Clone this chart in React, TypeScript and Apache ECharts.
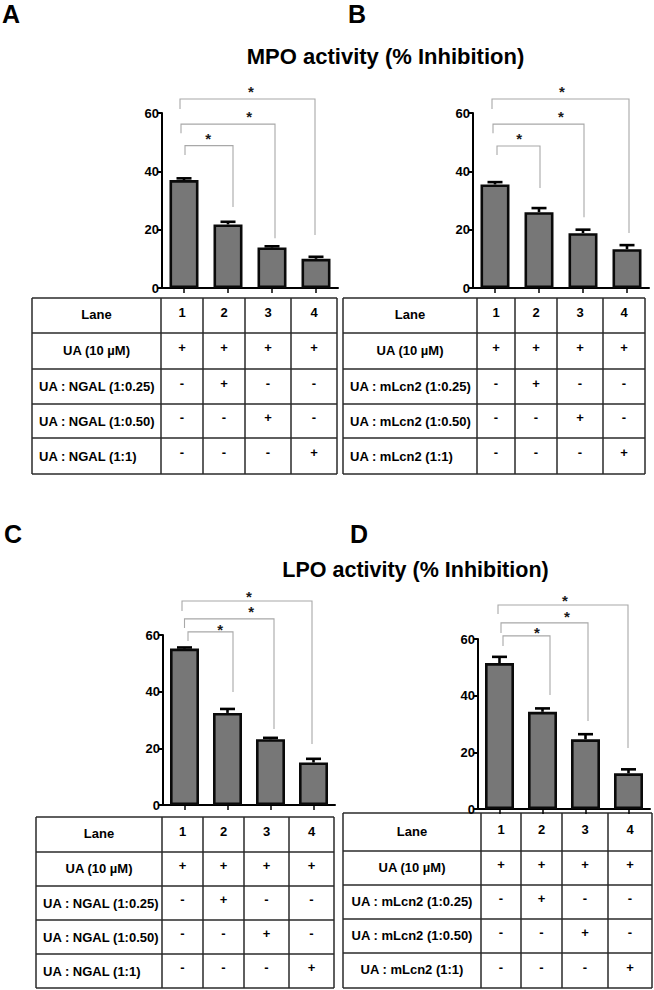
import React, { useEffect, useRef } from 'react';
import * as echarts from 'echarts';

// ---------- data ----------
const lanes = ['1', '2', '3', '4'];
const yTicks = [0, 20, 40, 60];

const mpoNgal = [37.0, 21.8, 13.9, 10.0];
const mpoNgalErr = [0.6, 0.9, 0.4, 0.7];
const mpoLcn2 = [35.5, 26.0, 18.8, 13.3];
const mpoLcn2Err = [0.8, 1.4, 1.2, 1.4];
const lpoNgal = [55.2, 32.5, 23.2, 15.0];
const lpoNgalErr = [0.4, 1.4, 0.5, 1.3];
const lpoLcn2 = [51.5, 34.3, 24.6, 12.6];
const lpoLcn2Err = [2.2, 1.2, 1.8, 1.4];

// brackets: [fromLane, toLane, top, leftLegEnd, rightLegEnd, starPosition]
const mpoNgalBrackets = [
  [0, 1, 48.8, 45.6, 27.8, 0.55],
  [0, 2, 56.2, 53.1, 17.1, 1.48],
  [0, 3, 64.8, 61.4, 18.2, 1.52],
];
const mpoLcn2Brackets = [
  [0, 1, 48.7, 45.6, 34.3, 0.55],
  [0, 2, 56.2, 53.1, 24.3, 1.5],
  [0, 3, 64.8, 61.4, 18.9, 1.52],
];
const lpoNgalBrackets = [
  [0, 1, 61.1, 57.9, 39.9, 0.83],
  [0, 2, 65.7, 62.5, 26.8, 1.55],
  [0, 3, 72.0, 68.5, 21.5, 1.5],
];
const lpoLcn2Brackets = [
  [0, 1, 61.1, 57.5, 40.2, 0.87],
  [0, 2, 65.7, 62.1, 31.1, 1.57],
  [0, 3, 72.0, 68.8, 21.5, 1.52],
];
const sigMark = '*';

const titles = ['MPO activity (% Inhibition)', 'LPO activity (% Inhibition)'];
const panelLetters = ['A', 'B', 'C', 'D'];

const ngalRowLabels = ['Lane', 'UA (10 µM)', 'UA : NGAL (1:0.25)', 'UA : NGAL (1:0.50)', 'UA : NGAL (1:1)'];
const lcn2RowLabels = ['Lane', 'UA (10 µM)', 'UA : mLcn2 (1:0.25)', 'UA : mLcn2 (1:0.50)', 'UA : mLcn2 (1:1)'];
const treatmentMarks = [
  ['+', '+', '+', '+'],
  ['-', '+', '-', '-'],
  ['-', '-', '+', '-'],
  ['-', '-', '-', '+'],
];

// ---------- layout / style ----------
const FONT = '"Liberation Sans", Arial, Helvetica, sans-serif';

const panels = [
  {
    values: mpoNgal, errs: mpoNgalErr, brackets: mpoNgalBrackets, labels: ngalRowLabels,
    grid: { left: 162, top: 113, width: 176, height: 175 },
    bracketDx: [[1, 5], [-3, 3], [-4, -1]], starDy: [10.5, 11, 11],
    table: { x0: 32, x1: 337, cols: [161, 203, 245, 291], rows: [298, 333, 369, 404, 438, 474], leftAlign: true },
    letter: { x: 2, y: 13.5 },
  },
  {
    values: mpoLcn2, errs: mpoLcn2Err, brackets: mpoLcn2Brackets, labels: lcn2RowLabels,
    grid: { left: 473, top: 113, width: 176, height: 175 },
    bracketDx: [[2, 1], [-2, 1], [-3, 2]], starDy: [11, 11, 11],
    table: { x0: 343, x1: 645, cols: [477, 515, 557, 603], rows: [298, 333, 369, 404, 438, 474], leftAlign: true },
    letter: { x: 348, y: 13.5 },
  },
  {
    values: lpoNgal, errs: lpoNgalErr, brackets: lpoNgalBrackets, labels: ngalRowLabels,
    grid: { left: 163, top: 635, width: 172, height: 170 },
    bracketDx: [[3.5, 5.5], [0, 3.5], [-2.5, -1.5]], starDy: [6, 11, 8],
    table: { x0: 36, x1: 334, cols: [162, 203, 244, 289], rows: [817, 852, 886, 920, 954, 988], leftAlign: true },
    letter: { x: 4, y: 534 },
  },
  {
    values: lpoLcn2, errs: lpoLcn2Err, brackets: lpoLcn2Brackets, labels: lcn2RowLabels,
    grid: { left: 478, top: 639, width: 172, height: 170 },
    bracketDx: [[3.5, 7.5], [1.5, 2.5], [-1.5, -0.5]], starDy: [7, 10, 8],
    table: { x0: 343, x1: 652, cols: [481, 521, 562, 608], rows: [813, 851, 885, 919, 953, 988], leftAlign: false },
    letter: { x: 350, y: 534 },
  },
];

const titlePos = [
  { x: 385.5, y: 56.5, size: 22 },
  { x: 415.5, y: 569.5, size: 21.5 },
];

function txt(text: string, x: number, y: number, size: number, align: string, extra: any = {}) {
  return {
    type: 'text',
    x, y,
    silent: true,
    style: {
      text,
      font: `bold ${size}px ${FONT}`,
      fill: '#000',
      align, textAlign: align,
      verticalAlign: 'middle', textVerticalAlign: 'middle',
      ...extra,
    },
  };
}

function tableGraphics(p: any) {
  const t = p.table;
  const els: any[] = [];
  const stroke = { stroke: '#2a2a2a', lineWidth: 1.5 };
  const top = t.rows[0];
  const bottom = t.rows[t.rows.length - 1];
  t.rows.forEach((y: number) => {
    els.push({ type: 'line', silent: true, shape: { x1: t.x0, y1: y, x2: t.x1, y2: y }, style: stroke });
  });
  [t.x0, ...t.cols, t.x1].forEach((x: number) => {
    els.push({ type: 'line', silent: true, shape: { x1: x, y1: top, x2: x, y2: bottom }, style: stroke });
  });
  const colEdges = [...t.cols, t.x1];
  const colCenters = lanes.map((_, i) => (colEdges[i] + colEdges[i + 1]) / 2);
  const labelCenter = (t.x0 + t.cols[0]) / 2;
  p.labels.forEach((lab: string, r: number) => {
    const yc = (t.rows[r] + t.rows[r + 1]) / 2;
    if (r >= 2 && t.leftAlign) {
      els.push(txt(lab, t.x0 + 7, yc, 13, 'left'));
    } else {
      els.push(txt(lab, labelCenter, yc - 1, 13, 'center'));
    }
    if (r === 0) {
      lanes.forEach((ln, i) => els.push(txt(ln, colCenters[i], yc - 3, 13, 'center')));
    } else {
      treatmentMarks[r - 1].forEach((m, i) => els.push(txt(m, colCenters[i], yc - 3.5, 13, 'center')));
    }
  });
  return els;
}

export default function App() {
  const ref = useRef<HTMLDivElement>(null);

  useEffect(() => {
    if (!ref.current) return;
    const chart = echarts.init(ref.current, undefined, { renderer: 'svg' });

    const grids = panels.map((p) => ({ ...p.grid, containLabel: false }));
    const xAxes = panels.map((_, i) => ({
      type: 'category',
      gridIndex: i,
      data: lanes,
      axisLine: { show: true, lineStyle: { color: '#000', width: 2 } },
      axisTick: { show: true, alignWithLabel: true, length: 5, lineStyle: { color: '#000', width: 1.5 } },
      axisLabel: { show: false },
      splitLine: { show: false },
    }));
    const yAxes = panels.map((_, i) => ({
      type: 'value',
      gridIndex: i,
      min: yTicks[0],
      max: yTicks[yTicks.length - 1],
      interval: yTicks[1] - yTicks[0],
      axisLine: { show: true, lineStyle: { color: '#000', width: 2 } },
      axisTick: { show: true, length: 5, lineStyle: { color: '#000', width: 2 } },
      axisLabel: { show: true, color: '#000', fontWeight: 'bold', fontSize: 13, fontFamily: FONT, margin: 3 },
      splitLine: { show: false },
    }));

    const series: any[] = [];
    panels.forEach((p, i) => {
      series.push({
        type: 'bar',
        xAxisIndex: i,
        yAxisIndex: i,
        data: p.values,
        barWidth: 29,
        itemStyle: { color: '#777777', borderColor: '#0a0a0a', borderWidth: 2.6 },
        z: 2,
      });
      series.push({
        type: 'custom',
        xAxisIndex: i,
        yAxisIndex: i,
        z: 3,
        clip: false,
        data: p.values.map((v, k) => [k, v, p.errs[k]]),
        renderItem: (params: any, api: any) => {
          const idx = api.value(0);
          const mean = api.value(1);
          const err = api.value(2);
          const p0 = api.coord([idx, mean]);
          const p1 = api.coord([idx, mean + err]);
          return {
            type: 'group',
            children: [
              { type: 'line', shape: { x1: p0[0], y1: p0[1], x2: p1[0], y2: p1[1] }, style: { stroke: '#000', lineWidth: 2.6 } },
              { type: 'line', shape: { x1: p1[0] - 7.5, y1: p1[1], x2: p1[0] + 7.5, y2: p1[1] }, style: { stroke: '#000', lineWidth: 2.6 } },
            ],
          };
        },
      });
      series.push({
        type: 'custom',
        xAxisIndex: i,
        yAxisIndex: i,
        z: 4,
        clip: false,
        data: p.brackets,
        renderItem: (params: any, api: any) => {
          const from = api.value(0);
          const to = api.value(1);
          const top = api.value(2);
          const le = api.value(3);
          const re = api.value(4);
          const star = api.value(5);
          const dx = p.bracketDx[params.dataIndex];
          const pt = api.coord([from, top]);
          const xl = pt[0] + dx[0];
          const xr = api.coord([to, top])[0] + dx[1];
          const yt = pt[1];
          const yl = api.coord([from, le])[1];
          const yr = api.coord([to, re])[1];
          const f = Math.floor(star);
          const c0 = api.coord([f, top])[0];
          const c1 = api.coord([f + 1, top])[0];
          const xs = c0 + (c1 - c0) * (star - f);
          const ys = yt - p.starDy[params.dataIndex] + 3.5;
          return {
            type: 'group',
            children: [
              {
                type: 'polyline',
                shape: { points: [[xl, yl], [xl, yt], [xr, yt], [xr, yr]] },
                style: { stroke: '#a8a8a8', lineWidth: 1.1, fill: 'none' },
              },
              {
                type: 'text',
                x: xs,
                y: ys,
                style: {
                  text: sigMark,
                  font: `bold 15px ${FONT}`,
                  fill: '#1a1a1a',
                  align: 'center', textAlign: 'center',
                  verticalAlign: 'middle', textVerticalAlign: 'middle',
                },
              },
            ],
          };
        },
      });
    });

    const graphics: any[] = [];
    panels.forEach((p, i) => {
      graphics.push(txt(panelLetters[i], p.letter.x, p.letter.y, 25, 'left'));
      graphics.push(...tableGraphics(p));
    });
    titles.forEach((t, i) => {
      graphics.push(txt(t, titlePos[i].x, titlePos[i].y, titlePos[i].size, 'center'));
    });

    chart.setOption({
      animation: false,
      backgroundColor: '#fff',
      grid: grids,
      xAxis: xAxes,
      yAxis: yAxes,
      series,
      graphic: { elements: graphics },
    });

    return () => chart.dispose();
  }, []);

  return (
    <div
      ref={ref}
      style={{ position: 'absolute', left: 0, top: 0, width: 654, height: 990, background: '#fff' }}
    />
  );
}
